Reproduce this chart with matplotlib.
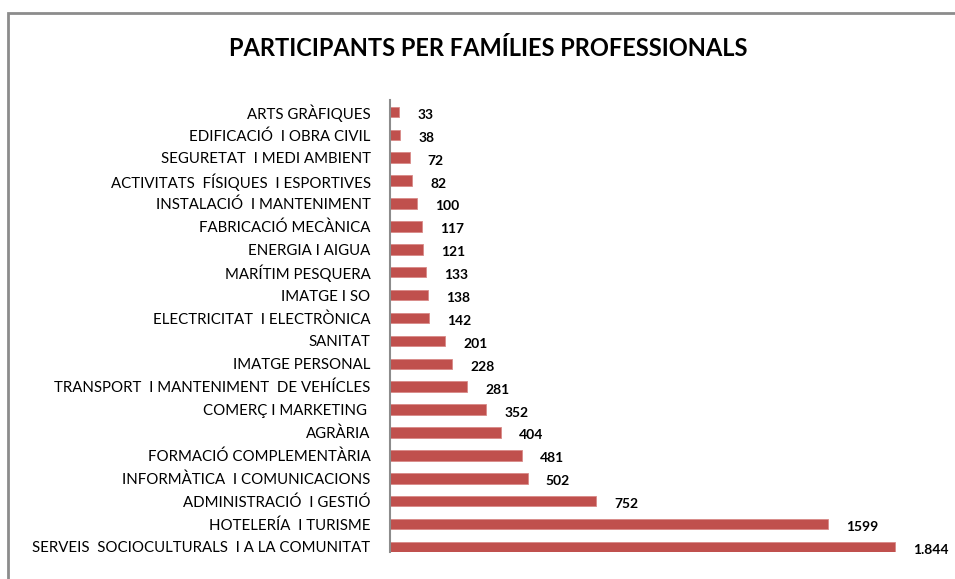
import matplotlib.pyplot as plt
from matplotlib.patches import Rectangle

# data, top to bottom as in the chart
categories = ["ARTS GRÀFIQUES", "EDIFICACIÓ  I OBRA CIVIL", "SEGURETAT  I MEDI AMBIENT",
              "ACTIVITATS  FÍSIQUES  I ESPORTIVES", "INSTALACIÓ  I MANTENIMENT",
              "FABRICACIÓ MECÀNICA", "ENERGIA I AIGUA", "MARÍTIM PESQUERA", "IMATGE I SO",
              "ELECTRICITAT  I ELECTRÒNICA", "SANITAT", "IMATGE PERSONAL",
              "TRANSPORT  I MANTENIMENT  DE VEHÍCLES", "COMERÇ I MARKETING ", "AGRÀRIA",
              "FORMACIÓ COMPLEMENTÀRIA", "INFORMÀTICA  I COMUNICACIONS",
              "ADMINISTRACIÓ  I GESTIÓ", "HOTELERÍA  I TURISME",
              "SERVEIS  SOCIOCULTURALS  I A LA COMUNITAT"]
values = [33, 38, 72, 82, 100, 117, 121, 133, 138, 142, 201, 228, 281, 352, 404, 481, 502, 752, 1599, 1844]
value_labels = ["33", "38", "72", "82", "100", "117", "121", "133", "138", "142", "201", "228",
                "281", "352", "404", "481", "502", "752", "1599", "1.844"]

plt.rcParams['font.family'] = ['Lato', 'DejaVu Sans']

W, H = 955, 579
fig = plt.figure(figsize=(W / 100, H / 100), dpi=100)

# outer frame (cut off at right and bottom like the source)
fig.patches.append(Rectangle((8 / W, -0.05), 1.1, 1 - 13 / H + 0.05, transform=fig.transFigure,
                             fill=False, edgecolor="#8c8c8c", linewidth=2))

ax = fig.add_axes([390 / W, 1 - 552 / H, 548 / W, 452 / H])
ypos = list(range(len(categories)))
ax.barh(ypos, values, height=0.46, color="#C0504D", edgecolor="#d98a88", linewidth=0.6)
ax.set_xlim(0, 2000)
ax.set_ylim(19.22, -0.52)

for y, v, lab in zip(ypos, values, value_labels):
    ax.annotate(lab, (v, y), xytext=(18, -3), textcoords="offset pixels",
                ha="left", va="center", fontsize=10, fontweight="bold", color="black")

ax.set_yticks(ypos)
ax.set_yticklabels(categories, fontsize=10.8)
ax.tick_params(axis="y", length=0, pad=14)
ax.set_xticks([])
for s in ["top", "right", "bottom"]:
    ax.spines[s].set_visible(False)
ax.spines["left"].set_color("#8c8c8c")
ax.spines["left"].set_linewidth(1.5)

fig.text(488 / W, 1 - 48 / H, "PARTICIPANTS PER FAMÍLIES PROFESSIONALS", ha="center", va="center",
         fontsize=17, fontweight="bold")

fig.savefig("out.png", dpi=100)
